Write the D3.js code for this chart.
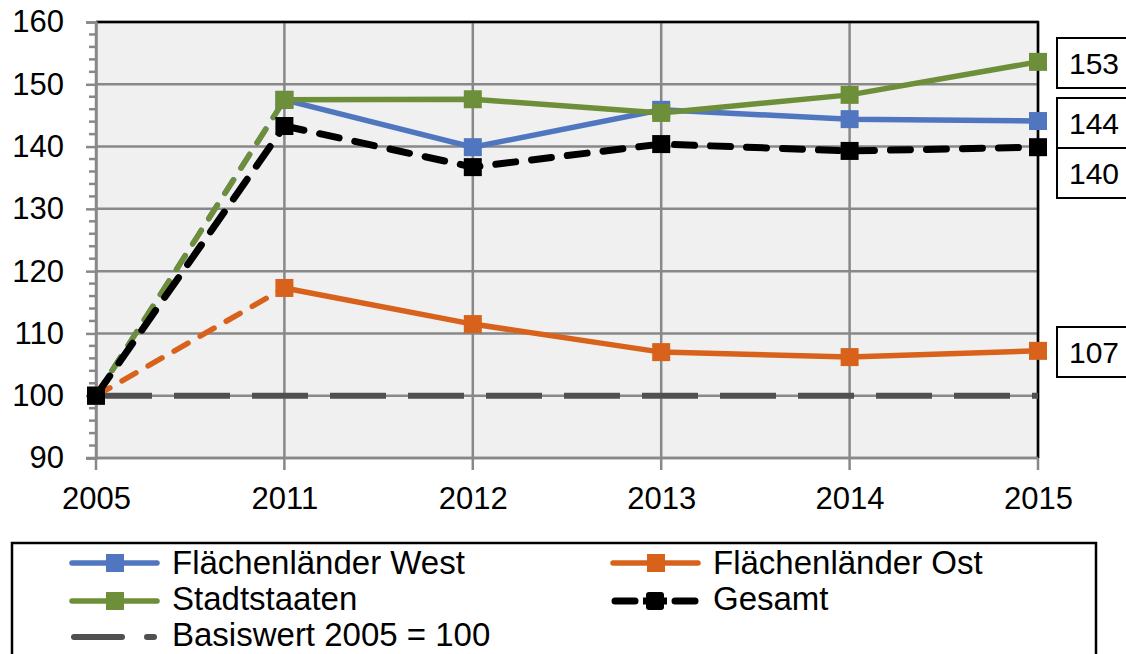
<!DOCTYPE html>
<html>
<head>
<meta charset="utf-8">
<script src="https://cdn.jsdelivr.net/npm/d3@7"></script>
<style>
  body { margin: 0; background: #fff; }
  svg text { font-family: "Liberation Sans", Arial, sans-serif; fill: #000; }
</style>
</head>
<body>
<script>
var w = 1126, h = 654;

var years = ["2005", "2011", "2012", "2013", "2014", "2015"];
var west = [100, 147.5, 139.9, 145.9, 144.4, 144.1];
var ost = [100, 117.3, 111.5, 107.0, 106.2, 107.2];
var stadt = [100, 147.5, 147.6, 145.4, 148.3, 153.6];
var gesamt = [100, 143.3, 136.7, 140.4, 139.3, 139.9];
var basis = [100, 100, 100, 100, 100, 100];
var yTicks = [90, 100, 110, 120, 130, 140, 150, 160];
var endLabels = ["153", "144", "140", "107"];

var m = { left: 96, right: 1038, top: 22, bottom: 458 };

var x = d3.scalePoint().domain(years).range([m.left, m.right]);
var y = d3.scaleLinear().domain([90, 160]).range([m.bottom, m.top]);

var svg = d3.select("body").append("svg")
  .attr("width", w)
  .attr("height", h);

// plot background
svg.append("rect")
  .attr("x", m.left).attr("y", m.top)
  .attr("width", m.right - m.left).attr("height", m.bottom - m.top)
  .attr("fill", "#f0f0f0");

// gridlines
svg.selectAll(".hgrid")
  .data(yTicks)
  .enter().append("line")
  .attr("x1", m.left).attr("x2", m.right)
  .attr("y1", d => y(d)).attr("y2", d => y(d))
  .attr("stroke", "#888").attr("stroke-width", 2.5);

svg.selectAll(".vgrid")
  .data(years)
  .enter().append("line")
  .attr("x1", d => x(d)).attr("x2", d => x(d))
  .attr("y1", m.top).attr("y2", m.bottom + 12)
  .attr("stroke", "#888").attr("stroke-width", 2.5);

// top + right border black
svg.append("path")
  .attr("d", `M${m.left},${m.top}H${m.right}V${m.bottom}`)
  .attr("fill", "none").attr("stroke", "#000").attr("stroke-width", 2.5);

// y axis
var yAxis = d3.axisLeft(y).tickValues(yTicks).tickSize(10).tickPadding(22);
var gy = svg.append("g").attr("transform", `translate(${m.left},0)`).call(yAxis);
gy.select(".domain").attr("stroke", "#888").attr("stroke-width", 2.5);
gy.selectAll(".tick line").attr("stroke", "#888").attr("stroke-width", 2.5);
gy.selectAll("text").attr("font-size", 31).attr("fill", "#000")
  .style("font-family", "Liberation Sans, Arial, sans-serif");

// minor ticks
var minor = d3.range(90, 160.1, 2).filter(d => d % 10 !== 0);
svg.selectAll(".minor")
  .data(minor)
  .enter().append("line")
  .attr("x1", m.left - 7).attr("x2", m.left)
  .attr("y1", d => y(d)).attr("y2", d => y(d))
  .attr("stroke", "#888").attr("stroke-width", 2.5);

// x axis labels
var xAxis = d3.axisBottom(x).tickSize(0).tickPadding(29);
var gx = svg.append("g").attr("transform", `translate(0,${m.bottom})`).call(xAxis);
gx.select(".domain").remove();
gx.selectAll("text").attr("font-size", 31).attr("fill", "#000")
  .style("font-family", "Liberation Sans, Arial, sans-serif");
svg.append("line")
  .attr("x1", m.left - 10).attr("x2", m.right)
  .attr("y1", m.bottom).attr("y2", m.bottom)
  .attr("stroke", "#888").attr("stroke-width", 2.5);

// series
var series = [
  { name: "Basiswert 2005 = 100", vals: basis, color: "#505050", width: 6, dash: "56 22", marker: false, firstDash: false },
  { name: "Flächenländer West", vals: west, color: "#4f76be", width: 5.5, dash: null, marker: true, firstDash: true },
  { name: "Flächenländer Ost", vals: ost, color: "#d8621b", width: 5.5, dash: null, marker: true, firstDash: true },
  { name: "Stadtstaaten", vals: stadt, color: "#6e8f3a", width: 5.5, dash: null, marker: true, firstDash: true },
  { name: "Gesamt", vals: gesamt, color: "#000", width: 7, dash: "20 16", marker: true, firstDash: true }
];

var line = d3.line().x(d => x(d[0])).y(d => y(d[1]));

series.forEach(function (s) {
  var pts = years.map((yr, i) => [yr, s.vals[i]]);
  var g = svg.append("g");
  if (s.firstDash) {
    g.append("path")
      .attr("d", line(pts.slice(0, 2)))
      .attr("fill", "none").attr("stroke", s.color).attr("stroke-width", s.width)
      .attr("stroke-dasharray", s.dash ? "24 16" : "16 14")
      .attr("stroke-linecap", "round");
    g.append("path")
      .attr("d", line(pts.slice(1)))
      .attr("fill", "none").attr("stroke", s.color).attr("stroke-width", s.width)
      .attr("stroke-dasharray", s.dash)
      .attr("stroke-linecap", s.dash ? "round" : "butt");
  } else {
    g.append("path")
      .attr("d", line(pts))
      .attr("fill", "none").attr("stroke", s.color).attr("stroke-width", s.width)
      .attr("stroke-dasharray", s.dash)
      .attr("stroke-linecap", "butt");
  }
  if (s.marker) {
    g.selectAll("rect")
      .data(pts)
      .enter().append("rect")
      .attr("x", d => x(d[0]) - 9).attr("y", d => y(d[1]) - 9)
      .attr("width", 18).attr("height", 18)
      .attr("fill", s.color);
  }
});

// end value boxes
var boxData = [
  { t: endLabels[0], v: stadt[5], top: 38 },
  { t: endLabels[1], v: west[5], top: 98 },
  { t: endLabels[2], v: gesamt[5], top: 148 },
  { t: endLabels[3], v: ost[5], top: 327 }
];
var bg = svg.selectAll(".endbox").data(boxData).enter().append("g");
bg.append("rect")
  .attr("x", 1057).attr("y", d => d.top)
  .attr("width", 80).attr("height", 50)
  .attr("fill", "#fff").attr("stroke", "#000").attr("stroke-width", 2);
bg.append("text")
  .attr("x", 1069).attr("y", d => d.top + 36)
  .attr("font-size", 30)
  .text(d => d.t);

// legend
svg.append("rect")
  .attr("x", 12).attr("y", 543)
  .attr("width", 1084).attr("height", 130)
  .attr("fill", "#fff").attr("stroke", "#000").attr("stroke-width", 2.5);

var legendItems = [
  { s: series[1], lx: 72, ty: 563, by: 574 },
  { s: series[2], lx: 613, ty: 563, by: 574 },
  { s: series[3], lx: 72, ty: 601, by: 610 },
  { s: series[4], lx: 613, ty: 601, by: 610 },
  { s: series[0], lx: 72, ty: 637, by: 646 }
];
legendItems.forEach(function (it) {
  var s = it.s;
  var g = svg.append("g");
  if (s.name === "Basiswert 2005 = 100") {
    g.append("line").attr("x1", 74).attr("x2", 122).attr("y1", it.ty).attr("y2", it.ty)
      .attr("stroke", s.color).attr("stroke-width", s.width).attr("stroke-linecap", "round");
    g.append("line").attr("x1", 147).attr("x2", 154).attr("y1", it.ty).attr("y2", it.ty)
      .attr("stroke", s.color).attr("stroke-width", s.width).attr("stroke-linecap", "round");
  } else if (s.name === "Gesamt") {
    [[it.lx + 2, it.lx + 22], [it.lx + 62, it.lx + 82]].forEach(function (seg) {
      g.append("line").attr("x1", seg[0]).attr("x2", seg[1]).attr("y1", it.ty).attr("y2", it.ty)
        .attr("stroke", "#000").attr("stroke-width", s.width).attr("stroke-linecap", "round");
    });
    g.append("rect").attr("x", it.lx + 33).attr("y", it.ty - 9).attr("width", 18).attr("height", 18)
      .attr("rx", 3).attr("fill", "#000");
    g.append("line").attr("x1", it.lx + 30).attr("x2", it.lx + 54).attr("y1", it.ty).attr("y2", it.ty)
      .attr("stroke", "#000").attr("stroke-width", s.width);
  } else {
    g.append("line").attr("x1", it.lx).attr("x2", it.lx + 85).attr("y1", it.ty).attr("y2", it.ty)
      .attr("stroke", s.color).attr("stroke-width", s.width).attr("stroke-linecap", "round");
    g.append("rect").attr("x", it.lx + 34).attr("y", it.ty - 9).attr("width", 18).attr("height", 18)
      .attr("fill", s.color);
  }
  g.append("text")
    .attr("x", it.lx + 100).attr("y", it.by)
    .attr("font-size", 33)
    .text(s.name);
});
</script>
</body>
</html>
